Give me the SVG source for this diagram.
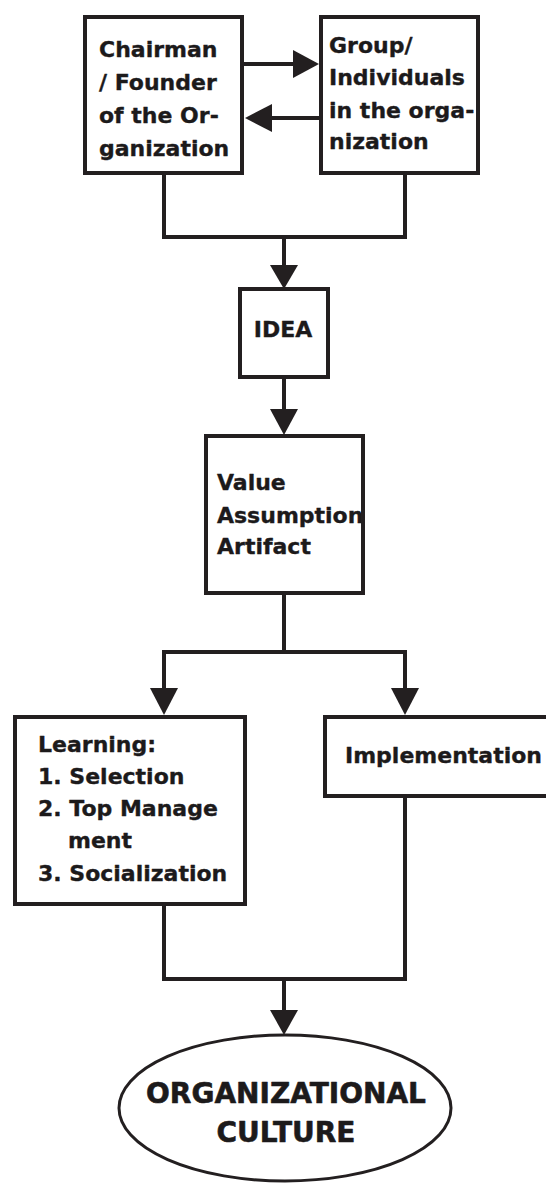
<svg xmlns="http://www.w3.org/2000/svg" width="546" height="1183" viewBox="0 0 546 1183">
<style>
.t{font-family:"DejaVu Sans","Liberation Sans",sans-serif;font-weight:bold;font-size:22px;fill:#1c1a1b;stroke:#1c1a1b;stroke-width:0.35;stroke-linejoin:round}
.big{font-size:28px;text-anchor:middle;stroke-width:0.6}
.box{fill:none;stroke:#231f20;stroke-width:4}
.ln{fill:none;stroke:#231f20;stroke-width:4}
.ah{fill:#231f20}
</style>
<rect width="546" height="1183" fill="#fff"/>
<g id="connectors">
<line class="ln" x1="244" y1="64" x2="296" y2="64"/>
<polygon class="ah" points="319,64 293,50 293,78"/>
<line class="ln" x1="319" y1="118" x2="268" y2="118"/>
<polygon class="ah" points="245,118 272,104 272,132"/>
<polyline class="ln" points="164,175 164,237 405,237 405,175"/>
<line class="ln" x1="284" y1="237" x2="284" y2="268"/>
<polygon class="ah" points="284,289 270,265 298,265"/>
<line class="ln" x1="284" y1="379" x2="284" y2="412"/>
<polygon class="ah" points="284,435 270,409 298,409"/>
<line class="ln" x1="284" y1="595" x2="284" y2="652"/>
<polyline class="ln" points="164,691 164,652 405,652 405,691"/>
<polygon class="ah" points="164,715 150,688 178,688"/>
<polygon class="ah" points="405,715 391,688 419,688"/>
<polyline class="ln" points="164,906 164,979 405,979 405,798"/>
<line class="ln" x1="284" y1="979" x2="284" y2="1013"/>
<polygon class="ah" points="284,1035 270,1010 298,1010"/>
</g>
<g id="chairman">
<text class="t" x="99" y="57">Chairman</text>
<text class="t" x="99" y="90">/ Founder</text>
<text class="t" x="99" y="123">of the Or-</text>
<text class="t" x="99" y="156">ganization</text>
<rect class="box" x="85" y="17" width="157" height="156"/>
</g>
<g id="group">
<text class="t" x="329" y="53">Group/</text>
<text class="t" x="329" y="85">Individuals</text>
<text class="t" x="329" y="118">in the orga-</text>
<text class="t" x="329" y="149">nization</text>
<rect class="box" x="321" y="17" width="157" height="156"/>
</g>
<g id="idea">
<text class="t" x="283" y="337" text-anchor="middle">IDEA</text>
<rect class="box" x="240" y="289" width="88" height="88"/>
</g>
<g id="value">
<text class="t" x="217" y="490">Value</text>
<text class="t" x="217" y="523">Assumption</text>
<text class="t" x="217" y="554">Artifact</text>
<rect class="box" x="206" y="436" width="157" height="157"/>
</g>
<g id="learning">
<text class="t" x="38" y="752">Learning:</text>
<text class="t" x="38" y="784">1. Selection</text>
<text class="t" x="38" y="816">2. Top Manage</text>
<text class="t" x="68" y="848">ment</text>
<text class="t" x="38" y="881">3. Socialization</text>
<rect class="box" x="15" y="717" width="230" height="187"/>
</g>
<g id="implementation">
<text class="t" x="345" y="763">Implementation</text>
<rect class="box" x="325" y="717" width="240" height="79"/>
</g>
<g id="culture">
<ellipse class="box" cx="285" cy="1108" rx="166" ry="73" style="stroke-width:3"/>
<text class="t big" x="286" y="1103">ORGANIZATIONAL</text>
<text class="t big" x="286" y="1142">CULTURE</text>
</g>
</svg>
